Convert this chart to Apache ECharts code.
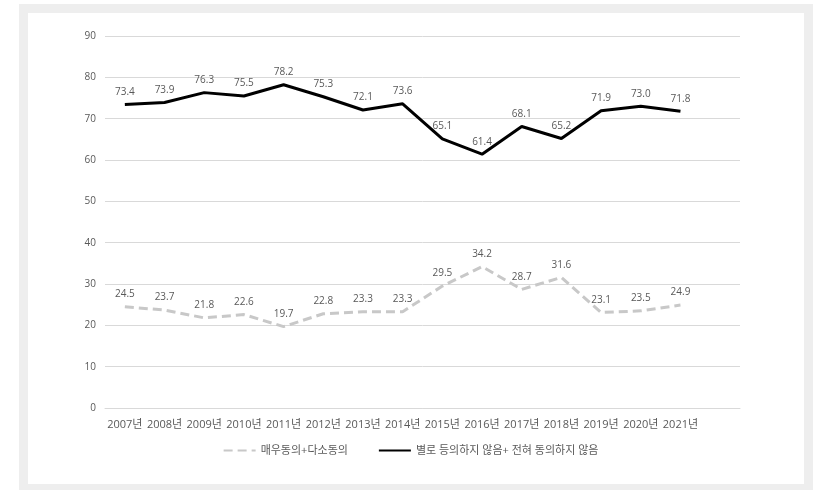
<!DOCTYPE html>
<html>
<head>
<meta charset="utf-8">
<script src="https://cdn.jsdelivr.net/npm/echarts@6/dist/echarts.min.js"></script>
<style>
html,body{margin:0;padding:0;background:#fff;}
#frame{position:absolute;left:19px;top:4px;width:776px;height:471px;border:9px solid #eeeeee;background:#fff;}
#chart{position:absolute;left:0;top:0;width:821px;height:490px;}
</style>
</head>
<body>
<div id="frame"></div>
<div id="chart"></div>
<script>
var categories = ['2007년','2008년','2009년','2010년','2011년','2012년','2013년','2014년','2015년','2016년','2017년','2018년','2019년','2020년','2021년',''];
var agreeName = '매우동의+다소동의';
var disagreeName = '별로 등의하지 않음+ 전혀 동의하지 않음';
var agree = [24.5,23.7,21.8,22.6,19.7,22.8,23.3,23.3,29.5,34.2,28.7,31.6,23.1,23.5,24.9];
var disagree = [73.4,73.9,76.3,75.5,78.2,75.3,72.1,73.6,65.1,61.4,68.1,65.2,71.9,73.0,71.8];
var yTicks = {min:0, max:90, interval:10};

var FONT = "'Open Sans', 'Noto Sans CJK KR', sans-serif";
var chart = echarts.init(document.getElementById('chart'), null, {renderer:'canvas'});
var lbl = {show:true, position:'top', distance:7, color:'#595959', fontSize:10, fontFamily:FONT,
  formatter:function(p){return Number(p.value).toFixed(1);}};
chart.setOption({
  animation:false,
  backgroundColor:'transparent',
  grid:{left:105, right:81, top:36, bottom:82},
  xAxis:{type:'category', data:categories, boundaryGap:true,
    axisLine:{show:true, lineStyle:{color:'#d9d9d9'}}, axisTick:{show:false},
    axisLabel:{interval:0, color:'#595959', fontSize:11, fontFamily:FONT, margin:11}},
  yAxis:{type:'value', min:yTicks.min, max:yTicks.max, interval:yTicks.interval,
    axisLine:{show:false}, axisTick:{show:false},
    splitLine:{lineStyle:{color:'#d9d9d9', width:1}},
    axisLabel:{color:'#595959', fontSize:10, fontFamily:FONT, margin:9}},
  legend:{bottom:29, left:'center', itemWidth:32, itemHeight:3, itemGap:30,
    textStyle:{color:'#595959', fontSize:11, fontFamily:FONT},
    data:[agreeName, disagreeName]},
  series:[
    {name:agreeName, type:'line', data:agree, symbol:'circle', symbolSize:1, showSymbol:true,
      lineStyle:{color:'#c8c8c8', width:3, type:[9,5]}, itemStyle:{color:'rgba(0,0,0,0)', borderWidth:0}, label:lbl,
      labelLayout:{hideOverlap:false}},
    {name:disagreeName, type:'line', data:disagree, symbol:'circle', symbolSize:1, showSymbol:true,
      lineStyle:{color:'#000000', width:3}, itemStyle:{color:'rgba(0,0,0,0)', borderWidth:0}, label:lbl,
      labelLayout:{hideOverlap:false}}
  ]
});
</script>
</body>
</html>
